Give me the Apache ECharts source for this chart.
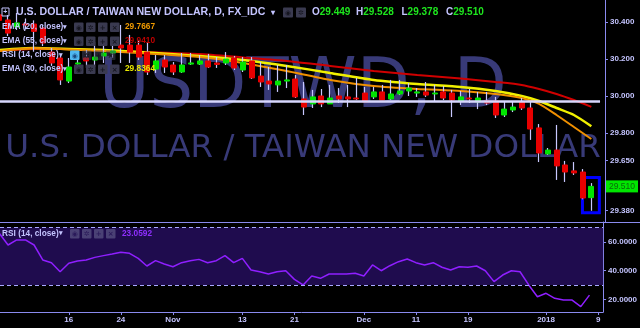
<!DOCTYPE html>
<html><head><meta charset="utf-8">
<script src="https://cdn.jsdelivr.net/npm/echarts@6/dist/echarts.min.js"></script>
<style>html,body{margin:0;padding:0;background:#000}#c{width:640px;height:328px}</style>
</head><body><div id="c"></div>
<script>
// trading-day index: 0 = 2017-10-16 (weekdays only), 60 = 2018-01-08
const dayIdx = [-8,-7,-6,-5,-4,-3,-2,-1,0,1,2,3,4,5,6,7,8,9,10,11,12,13,14,15,16,17,18,19,20,21,22,23,24,25,26,27,28,29,30,31,32,33,34,35,36,37,38,39,40,41,42,43,44,45,46,47,48,49,50,51,52,53,54,55,56,57,58,59,60];
const opens = [30.440,30.412,30.374,30.390,30.390,30.368,30.238,30.206,
  30.081,30.173,30.206,30.195,30.217,30.233,30.276,30.276,30.276,30.238,
  30.146,30.195,30.168,30.130,30.173,30.173,30.190,30.179,30.179,30.206,
  30.141,30.190,30.108,30.081,30.060,30.081,30.092,29.984,29.957,30.000,
  29.957,30.000,29.995,29.989,30.016,29.995,30.022,29.984,30.011,30.027,
  30.016,30.022,30.011,30.022,30.016,29.973,29.989,29.968,29.973,29.973,
  29.897,29.924,29.968,29.935,29.827,29.686,29.707,29.626,29.594,29.588,29.449];
const closes = [30.410,30.341,30.396,30.385,30.350,30.287,30.179,30.087,
  30.157,30.179,30.190,30.211,30.233,30.244,30.260,30.238,30.211,30.130,
  30.190,30.157,30.130,30.168,30.179,30.190,30.157,30.171,30.200,30.152,
  30.184,30.098,30.076,30.065,30.081,30.087,29.995,29.940,29.995,29.957,
  29.989,29.984,29.984,29.984,29.968,30.022,29.978,30.011,30.027,30.043,
  30.022,30.005,30.016,29.989,29.978,29.995,29.984,29.989,29.962,29.897,
  29.929,29.940,29.935,29.821,29.691,29.707,29.621,29.588,29.583,29.447,29.510];
const lows = [30.395,30.325,30.358,30.360,30.240,30.271,30.163,30.060,
  30.070,30.141,30.152,30.157,30.179,30.206,30.179,30.179,30.195,30.114,
  30.125,30.125,30.114,30.125,30.168,30.168,30.152,30.152,30.168,30.141,
  30.130,30.092,30.049,30.033,30.022,30.043,29.989,29.897,29.935,29.940,
  29.957,29.962,29.940,29.978,29.968,29.984,29.978,29.978,30.005,30.000,
  29.995,29.995,29.968,29.978,29.886,29.951,29.962,29.929,29.951,29.881,
  29.886,29.913,29.924,29.762,29.642,29.680,29.545,29.534,29.572,29.440,29.378];
const highs = [30.455,30.439,30.450,30.420,30.410,30.385,30.260,30.222,
  30.206,30.222,30.249,30.293,30.287,30.304,30.385,30.331,30.304,30.293,
  30.222,30.222,30.184,30.233,30.233,30.222,30.228,30.211,30.238,30.217,
  30.211,30.211,30.184,30.157,30.168,30.168,30.114,30.076,30.033,30.038,
  30.060,30.043,30.060,30.098,30.049,30.049,30.060,30.087,30.087,30.070,
  30.043,30.076,30.060,30.054,30.033,30.027,30.038,30.022,30.022,29.995,
  29.968,29.968,29.989,29.968,29.848,29.718,29.843,29.648,29.642,29.604,29.528];
const rsiValues = [66.0,57.9,61.4,61.4,57.9,47.5,45.6,39.3,
  45.2,46.8,47.5,49.3,50.5,51.6,52.8,52.1,48.6,43.3,
  47.0,44.7,42.8,45.6,47.0,47.9,45.6,47.0,50.5,45.6,
  48.6,40.5,39.3,37.7,39.3,40.0,34.0,30.1,36.3,34.7,
  37.7,37.7,37.7,38.2,36.3,44.0,40.0,43.5,46.3,48.2,
  45.6,44.0,45.6,42.4,40.5,42.8,42.4,43.3,40.0,32.4,
  37.0,40.0,39.3,30.1,21.9,24.3,20.8,19.6,19.6,15.0,23.0592];
const emaIdx = [-8,-4,0,4,9,15,20,25,30,35,40,45,49,52,54,56,58,60];
const ema55 = [30.244,30.255,30.255,30.249,30.238,30.228,30.209,30.190,30.163,30.135,30.114,30.095,30.076,30.060,30.038,30.011,29.978,29.941];
const ema30 = [30.249,30.260,30.255,30.249,30.236,30.217,30.195,30.163,30.125,30.087,30.065,30.049,30.027,30.000,29.973,29.935,29.897,29.8364];
const ema20 = [30.244,30.260,30.252,30.244,30.230,30.211,30.179,30.135,30.087,30.054,30.038,30.027,30.011,29.989,29.957,29.897,29.832,29.7667];
const xTickIdx = [0,6,12,20,26,34,40,46,55,61];
const xTickLabels = ['16','24','Nov','13','21','Dec','11','19','2018','9'];
const priceTicks = [30.4,30.2,30.0,29.8,29.65,29.38];
const rsiTicks = [60,40,20];
const hLineLevel = 29.973;
const lastClose = 29.510;

const X_MIN = -7.927, X_MAX = 61.57;
const P_MIN = 29.317, P_MAX = 30.5203;
const R_MIN = 11.29, R_MAX = 73.9;
const LAV = '#c4c4ff', AXIS = '#8a8aee', UP = '#00e600', DOWN = '#e80000', WICK = '#c8c8ff';
const FF = '"Liberation Sans", Arial, sans-serif';

const wickData = dayIdx.map((d,i)=>[d, opens[i], closes[i], lows[i], highs[i]]);
const bodyData = dayIdx.map((d,i)=>[d, opens[i], closes[i], Math.min(opens[i],closes[i]), Math.max(opens[i],closes[i])]);
const pair = (xs, ys) => xs.map((x,i)=>[x, ys[i]]);

function t(x, y, text, fill, size, extra) {
  return Object.assign({type:'text', x:x, y:y, z:100, silent:true,
    style:{text:text, fill:fill, font:'bold '+size+'px '+FF, verticalAlign:'middle', align:'left'}}, extra||{});
}
const glyphs = ['◉','✲','+','×'];
function box(x, y, w, fill, k, glyphFill) {
  return {type:'group', z:100, silent:true, children:[
    {type:'rect', z:100, shape:{x:x, y:y, width:w, height:w, r:1}, style:{fill:fill}},
    {type:'text', z:101, x:x+w/2, y:y+w/2+0.5, style:{text:glyphs[k%4], fill:glyphFill||'#15151f', font:'bold 7px "DejaVu Sans", sans-serif', align:'center', verticalAlign:'middle'}}
  ]};
}
const g = [];
// watermark
g.push({type:'text', x:303, y:89, z:0, silent:true, style:{text:'USDTWD, D', fill:'#383a78', font:'69px "DejaVu Sans", sans-serif', align:'center', verticalAlign:'middle'}});
g.push({type:'text', x:303, y:149, z:0, silent:true, style:{text:'U.S. DOLLAR / TAIWAN NEW DOLLAR', fill:'#383a78', font:'32.5px "DejaVu Sans", sans-serif', align:'center', verticalAlign:'middle'}});
// separator
g.push({type:'line', z:50, silent:true, shape:{x1:0, y1:222.5, x2:640, y2:222.5}, style:{stroke:AXIS, lineWidth:1}});
// header
g.push({type:'rect', z:100, silent:true, shape:{x:2, y:8, width:7, height:8}, style:{fill:'none', stroke:LAV, lineWidth:1}});
g.push(t(3.2, 12.3, '+', LAV, 7));
g.push(t(16, 12.5, 'U.S. DOLLAR / TAIWAN NEW DOLLAR, D, FX_IDC', LAV, 10.6));
g.push(t(271, 12.5, '▾', LAV, 8));
g.push(box(283, 7.5, 10, '#3a3a50', 0)); g.push(box(296, 7.5, 10, '#3a3a50', 1));
const ohlc = [['O','29.449',312],['H','29.528',356],['L','29.378',401.5],['C','29.510',446]];
ohlc.forEach(o=>{
  g.push({type:'text', x:o[2], y:12.5, z:100, silent:true, style:{text:'{a|'+o[0]+'}{b|'+o[1]+'}', font:'bold 10px '+FF, verticalAlign:'middle',
    rich:{a:{fill:LAV, font:'bold 10px '+FF}, b:{fill:'#1ee61e', font:'bold 10px '+FF}}}});
});
const rows = [['EMA (20, close)','29.7667','#f09a00',27,74],['EMA (55, close)','29.9410','#c00000',41,74],['RSI (14, close)',null,null,55,70],['EMA (30, close)','29.8364','#e8e800',69,74]];
rows.forEach(r=>{
  g.push(t(2, r[3], r[0], LAV, 8.3));
  g.push(t(r[4]-11, r[3], '▾', LAV, 7));
  for (let k=0;k<4;k++) {
    const isRsi = r[0].startsWith('RSI');
    const col = (isRsi && k===0) ? '#4fb8f0' : (isRsi ? 'rgba(70,70,95,0.5)' : '#3a3a50');
    g.push(box(r[4]+k*12, r[3]-4.5, 9.5, col, k, (isRsi && k===0) ? '#1a4a80' : null));
  }
  if (r[1]) g.push(t(125, r[3], r[1], r[2], 8.3));
});
// RSI pane legend
g.push(t(2, 233.5, 'RSI (14, close)', LAV, 8.3));
g.push(t(59, 233.5, '▾', LAV, 7));
for (let k=0;k<4;k++) g.push(box(70+k*12, 229, 9.5, 'rgba(110,110,150,0.55)', k, '#2a1a5a'));
g.push(t(122, 233.5, '23.0592', '#8f2fff', 8.3));

const option = {
  backgroundColor:'#000000',
  animation:false,
  grid:[{left:0, top:0, width:605, height:222}, {left:0, top:222, width:605, height:90}],
  xAxis:[
    {type:'value', gridIndex:0, min:X_MIN, max:X_MAX, show:false},
    {type:'value', gridIndex:1, min:X_MIN, max:X_MAX,
     axisLine:{show:true, onZero:false, lineStyle:{color:AXIS}},
     axisTick:{show:true, customValues:xTickIdx, length:3, lineStyle:{color:AXIS}},
     axisLabel:{show:true, customValues:xTickIdx, margin:4, color:LAV, fontSize:8, fontWeight:'bold', fontFamily:FF,
       formatter:v=>{const k=xTickIdx.indexOf(v); return k>=0?xTickLabels[k]:'';}},
     splitLine:{show:false}}
  ],
  yAxis:[
    {type:'value', gridIndex:0, position:'right', min:P_MIN, max:P_MAX,
     axisLine:{show:true, onZero:false, lineStyle:{color:AXIS}},
     axisTick:{show:true, customValues:priceTicks, length:3, lineStyle:{color:AXIS}},
     axisLabel:{show:true, customValues:priceTicks, margin:5, color:LAV, fontSize:8, fontWeight:'bold', fontFamily:FF, formatter:v=>v.toFixed(3)},
     splitLine:{show:false}},
    {type:'value', gridIndex:1, position:'right', min:R_MIN, max:R_MAX,
     axisLine:{show:true, onZero:false, lineStyle:{color:AXIS}},
     axisTick:{show:true, customValues:rsiTicks, length:3, lineStyle:{color:AXIS}},
     axisLabel:{show:true, customValues:rsiTicks, margin:5, color:LAV, fontSize:8, fontWeight:'bold', fontFamily:FF, formatter:v=>v.toFixed(4)},
     splitLine:{show:false}}
  ],
  series:[
    {type:'line', xAxisIndex:0, yAxisIndex:0, data:pair(emaIdx, ema55), symbol:'none', smooth:0.2, z:2, silent:true, lineStyle:{color:'#d00000', width:2}},
    {type:'line', xAxisIndex:0, yAxisIndex:0, data:pair(emaIdx, ema30), symbol:'none', smooth:0.2, z:2, silent:true, lineStyle:{color:'#f0f000', width:2.5}},
    {type:'line', xAxisIndex:0, yAxisIndex:0, data:pair(emaIdx, ema20), symbol:'none', smooth:0.2, z:2, silent:true, lineStyle:{color:'#f09000', width:2}},
    {type:'candlestick', xAxisIndex:0, yAxisIndex:0, data:wickData, barWidth:0.3, z:3, silent:true,
     itemStyle:{color:WICK, color0:WICK, borderColor:WICK, borderColor0:WICK, borderWidth:1.2}},
    {type:'candlestick', xAxisIndex:0, yAxisIndex:0, data:bodyData, barWidth:5.5, z:4, silent:true,
     itemStyle:{color:UP, color0:DOWN, borderColor:UP, borderColor0:DOWN, borderWidth:1}},
    {type:'line', xAxisIndex:0, yAxisIndex:0, data:[], z:6, silent:true,
     markLine:{silent:true, symbol:'none', animation:false, data:[
       [{coord:[X_MIN, hLineLevel], lineStyle:{color:'#d8d8ff', width:2.5, type:'solid'}, label:{show:false}},
        {coord:[61.0, hLineLevel]}],
       {yAxis:lastClose, lineStyle:{color:'rgba(0,0,0,0)', width:0}, label:{show:true, position:'end', distance:1, opacity:1,
         formatter:lastClose.toFixed(3), backgroundColor:'#00e600', color:'#0a6a0a', padding:[2,3,1,3], fontSize:8.5, fontFamily:FF}}
     ]},
     markArea:{silent:true, data:[[{coord:[58.98, 29.558]},{coord:[60.92, 29.367]}]],
       itemStyle:{color:'rgba(0,0,0,0)', borderColor:'#0000ff', borderWidth:3}}},
    {type:'line', xAxisIndex:1, yAxisIndex:1, data:pair(dayIdx, rsiValues), symbol:'none', z:3, silent:true,
     lineStyle:{color:'#8f1fff', width:1.5},
     markArea:{silent:true, data:[[{yAxis:30},{yAxis:70}]], itemStyle:{color:'#1f0c4e'}},
     markLine:{silent:true, symbol:'none', label:{show:false}, lineStyle:{color:'#a8a8ff', width:1, type:[4,3]},
       data:[{yAxis:70},{yAxis:30}]}}
  ],
  graphic:g
};
const chart = echarts.init(document.getElementById('c'));
chart.setOption(option);
</script></body></html>
